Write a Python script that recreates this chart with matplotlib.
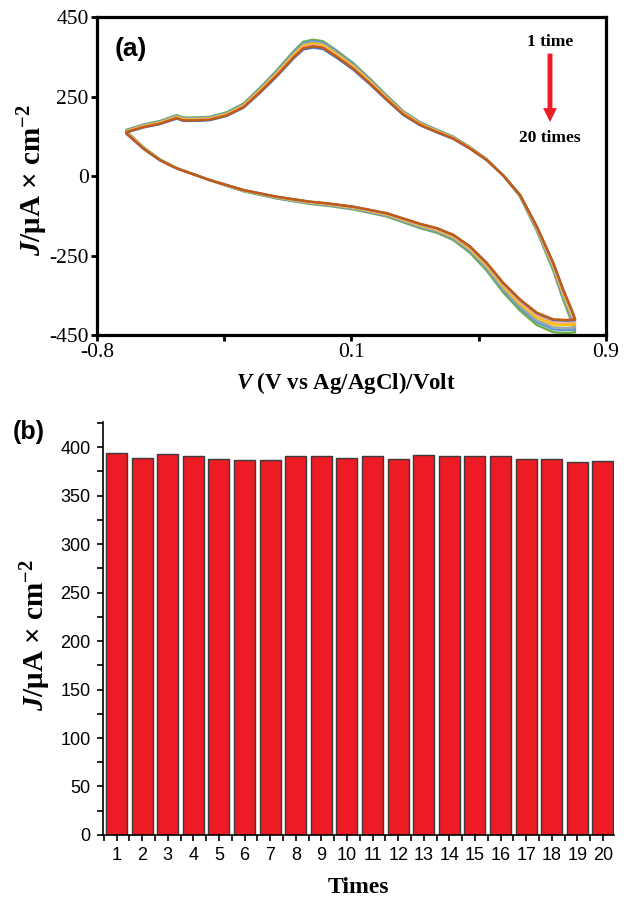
import numpy as np
import matplotlib
matplotlib.use('Agg')
import matplotlib.pyplot as plt
from matplotlib.ticker import AutoMinorLocator, MultipleLocator

plt.rcParams['mathtext.fontset'] = 'custom'
plt.rcParams['mathtext.rm'] = 'Liberation Serif:bold'
plt.rcParams['mathtext.it'] = 'Liberation Serif:italic:bold'
plt.rcParams['mathtext.bf'] = 'Liberation Serif:bold'

# ---- (a) CV curve (V, J) ----
v_anodic = [-0.701, -0.645, -0.590, -0.534, -0.512, -0.467, -0.423, -0.367, -0.311,
            -0.256, -0.200, -0.144, -0.111, -0.078, -0.045, 0.001, 0.056, 0.112,
            0.168, 0.223, 0.279, 0.335, 0.390, 0.446, 0.502, 0.557, 0.613, 0.669,
            0.724, 0.757, 0.785, 0.797]
j_anodic = [125.4, 139.5, 149.1, 165.0, 158.5, 158.5, 160.5, 172.6, 196.1,
            238.6, 285.8, 337.6, 363.7, 369.3, 365.1, 339.6, 305.7, 263.2,
            217.9, 175.5, 145.8, 125.4, 106.7, 78.4, 45.3, 1.4, -53.8, -143.5,
            -247.1, -322.6, -379.2, -407.5]
v_cathodic = [0.797, 0.769, 0.724, 0.669, 0.613, 0.557, 0.502, 0.446, 0.390, 0.335,
              0.279, 0.168, 0.056, -0.033, -0.089, -0.200, -0.311, -0.423,
              -0.534, -0.590, -0.645, -0.701]
j_cathodic = [-407.5, -409.5, -407.5, -388.6, -350.9, -303.7, -247.1, -200.1,
              -167.0, -148.0, -135.8, -105.6, -86.9, -77.3, -72.7, -58.6, -39.6,
              -11.3, 21.8, 45.3, 78.4, 120.8]

# visible cycles: colour, relative size of anodic / cathodic lobe
cycle_colors = ['#70AD47', '#5B9BD5', '#A5A5A5', '#FFC000', '#F4B183', '#4472C4', '#C55A11']
anodic_scale = [1.045, 1.035, 1.025, 1.015, 1.005, 0.985, 0.995]
cathodic_scale = [1.085, 1.065, 1.050, 1.030, 1.015, 1.000, 0.995]

# ---- (b) peak current for each run ----
runs = list(range(1, 21))
peak_j = [394, 389, 393, 391, 388, 386.5, 387, 391, 390.5, 389,
          390.5, 388, 392, 391, 391, 390.5, 388, 388, 385, 385.5]

fig = plt.figure(figsize=(6.31, 8.98), dpi=100)

# ================= (a)
ax1 = fig.add_axes([0.1537, 0.6269, 0.8067, 0.3541])
v_cv = np.array(v_anodic + v_cathodic)
j_cv = np.array(j_anodic + j_cathodic)
for c, a, k in zip(cycle_colors, anodic_scale, cathodic_scale):
    ax1.plot(v_cv, j_cv * np.where(j_cv > 0, a, k), color=c, lw=1.7)

ax1.set_xlim(-0.8, 0.9)
ax1.set_ylim(-450, 450)
ax1.set_xticks([-0.8, -0.375, 0.05, 0.475, 0.9])
ax1.set_xticklabels(['-0.8', '', '0.1', '', '0.9'])
ax1.set_yticks([-450, -225, 0, 225, 450])
ax1.set_yticklabels(['-450', '-250', '0', '250', '450'])
for s in ax1.spines.values():
    s.set_linewidth(2.3)
ax1.tick_params(direction='out', length=4, width=2, pad=2, labelsize=15.5,
                top=False, right=False)
for t in ax1.get_xticklabels() + ax1.get_yticklabels():
    t.set_fontfamily('Liberation Serif')

ax1.set_ylabel(r'$J$/μA × cm$^{-2}$', fontsize=21, fontweight='bold',
               family='Liberation Serif')
ax1.yaxis.set_label_coords(-0.093, 0.487)
ax1.set_xlabel(r'$V$ (V vs Ag/AgCl)/Volt', fontsize=16.5, fontweight='bold',
               family='Liberation Serif')
ax1.xaxis.set_label_coords(0.489, -0.11)

ax1.text(0.067, 0.90, '(a)', transform=ax1.transAxes, fontsize=19,
         fontweight='bold', family='Liberation Sans', ha='center', va='center')
ax1.text(0.89, 0.921, '1 time', transform=ax1.transAxes, fontsize=12.5,
         fontweight='bold', family='Liberation Serif', ha='center', va='center')
ax1.text(0.89, 0.62, '20 times', transform=ax1.transAxes, fontsize=12.5,
         fontweight='bold', family='Liberation Serif', ha='center', va='center')
ax1.annotate('', xy=(0.89, 0.67), xytext=(0.89, 0.885), xycoords='axes fraction',
             arrowprops=dict(facecolor='#ED1C24', edgecolor='none', width=3.5,
                             headwidth=10, headlength=10, shrink=0))

# ================= (b)
ax2 = fig.add_axes([0.1632, 0.0702, 0.8098, 0.4599])
ax2.bar(runs, peak_j, width=0.82, color='#ED1C24', edgecolor='#3a3a3a', linewidth=1)
ax2.set_xlim(0.47, 20.43)
ax2.set_ylim(0, 426)
ax2.set_xticks(runs)
ax2.xaxis.set_minor_locator(MultipleLocator(0.5))
ax2.yaxis.set_major_locator(MultipleLocator(50))
ax2.yaxis.set_minor_locator(AutoMinorLocator(2))
ax2.spines['top'].set_visible(False)
ax2.spines['right'].set_visible(False)
for s in ('left', 'bottom'):
    ax2.spines[s].set_linewidth(1.2)
ax2.tick_params(which='both', direction='out', length=4, width=1.2,
                labelsize=13, pad=5)
for t in ax2.get_xticklabels() + ax2.get_yticklabels():
    t.set_fontfamily('Liberation Sans')

ax2.set_ylabel(r'$J$/μA × cm$^{-2}$', fontsize=21, fontweight='bold',
               family='Liberation Serif')
ax2.yaxis.set_label_coords(-0.097, 0.484)
ax2.set_xlabel('Times', fontsize=17, fontweight='bold', family='Liberation Serif')
ax2.xaxis.set_label_coords(0.499, -0.102)

fig.text(0.046, 0.519, '(b)', fontsize=18, fontweight='bold',
         family='Liberation Sans', ha='center', va='center')

fig.savefig('out.png', dpi=100)
